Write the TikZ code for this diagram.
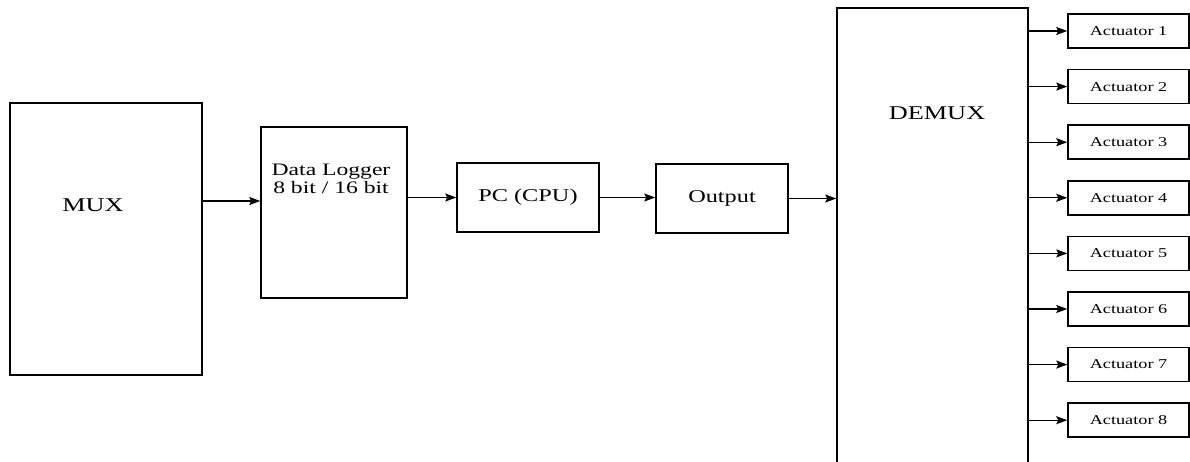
\documentclass[tikz,border=0pt]{standalone}
\usepackage{fontspec}
\setmainfont[FakeStretch=1.35]{Liberation Serif}
\usetikzlibrary{positioning,arrows.meta}

\begin{document}
\begin{tikzpicture}[x=1pt,y=-1pt,-{Stealth[length=11pt,width=8pt,inset=2pt]},line width=1.3pt,node distance=55.6pt,
    block/.style={rectangle,draw,line width=1.5pt,inner sep=0pt},
    act node/.style={block,minimum width=121pt,minimum height=34pt,font=\fontsize{13.5}{16}\selectfont}]

            \useasboundingbox (0,0) rectangle (1190,462);

            % main chain
            \node[block, minimum width=192pt, minimum height=272pt] (mux) at (106,239) {};
            \node[block, minimum width=146pt, minimum height=171pt] (logger) at (334,212.5) {};
            \node[block, minimum width=142pt, minimum height=69pt, font=\fontsize{18}{21}\selectfont] (pc) at (528,197.5) {PC (CPU)};
            \node[block, minimum width=132pt, minimum height=69pt, font=\fontsize{18}{21}\selectfont] (out) at (722,198.5) {Output};
            \node[block, minimum width=191pt, minimum height=472pt] (demux) at (932.5,244) {};

            % labels inside the tall boxes
            \node[font=\fontsize{19.5}{22}\selectfont] (muxtext) at (93,205) {MUX};
            \node[align=center, font=\fontsize{17.5}{18}\selectfont] (loggertext) at (331,179) {Data Logger\\8 bit / 16 bit};
            \node[font=\fontsize{19.5}{22}\selectfont] (demuxtext) at (937,113) {DEMUX};

            % actuators
            \node[act node] (a1) at (1128.5,31) {Actuator 1};
            \node[act node] (a2) [below of = a1] {Actuator 2};
            \node[act node] (a3) [below of = a2] {Actuator 3};
            \node[act node] (a4) [below of = a3] {Actuator 4};
            \node[act node] (a5) [below of = a4] {Actuator 5};
            \node[act node] (a6) [below of = a5] {Actuator 6};
            \node[act node] (a7) [below of = a6] {Actuator 7};
            \node[act node] (a8) [below of = a7] {Actuator 8};

            \coordinate (m1) at (202,201);
            \draw (m1) to (m1 -| logger.west);
            \draw (pc.west -| logger.east) to (pc.west);
            \draw (pc.east) to (pc.east -| out.west);
            \draw (out.east) to (out.east -| demux.west);

            \draw (a1.west -| demux.east) to (a1.west);
            \draw (a2.west -| demux.east) to (a2.west);
            \draw (a3.west -| demux.east) to (a3.west);
            \draw (a4.west -| demux.east) to (a4.west);
            \draw (a5.west -| demux.east) to (a5.west);
            \draw (a6.west -| demux.east) to (a6.west);
            \draw (a7.west -| demux.east) to (a7.west);
            \draw (a8.west -| demux.east) to (a8.west);

        \end{tikzpicture}
\end{document}
